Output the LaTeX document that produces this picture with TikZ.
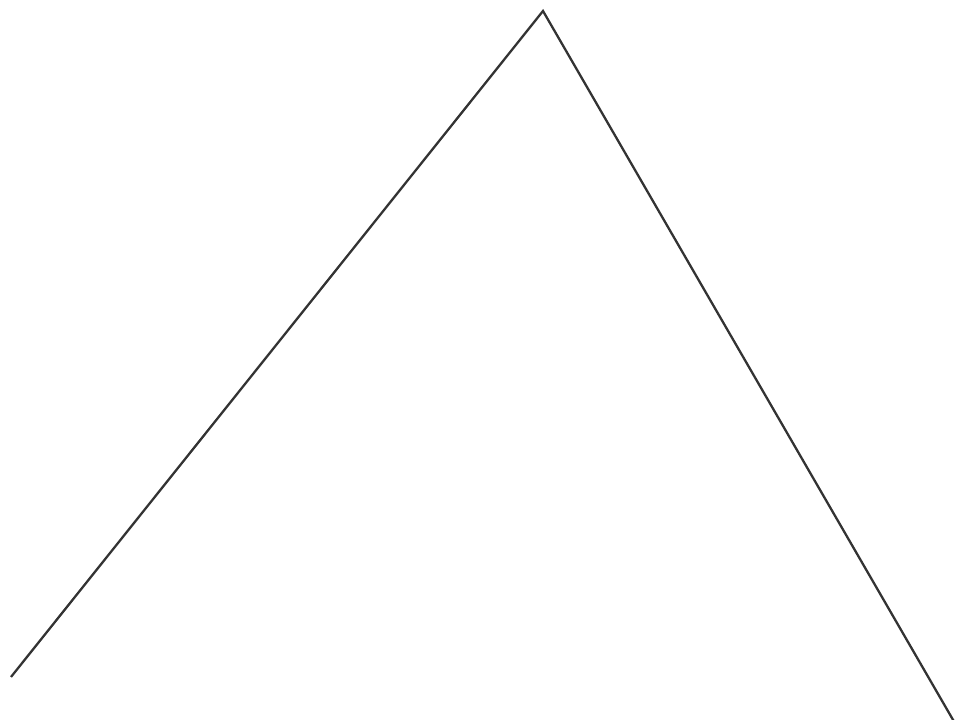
\documentclass[tikz,border=0pt]{standalone}

\tikzset{edge/.style={draw=black!80,line width=0.65pt}}

\begin{document}
\begin{tikzpicture}
\useasboundingbox (0,0) rectangle (9.6,7.2);
\clip (0,0) rectangle (9.6,7.2);
\coordinate (l) at (0.11,0.43);
\coordinate (t) at (5.43,7.09);
\coordinate (r) at (9.56,-0.05);
\path[edge] (l) -- (t) -- (r);
\end{tikzpicture}
\end{document}
